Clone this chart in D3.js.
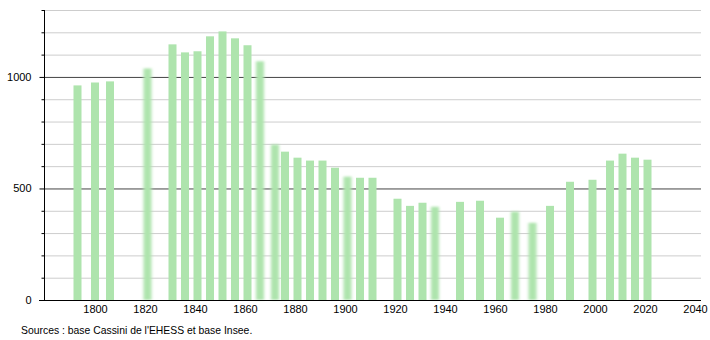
<!DOCTYPE html>
<html>
<head>
<meta charset="utf-8">
<script src="https://cdn.jsdelivr.net/npm/d3@7"></script>
<style>
  body { margin: 0; background: #fff; }
  text { font-family: "Liberation Sans", Arial, sans-serif; }
</style>
</head>
<body>
<svg width="710" height="340"></svg>
<script>
var width = 710;
var height = 340;
var margin = {left: 44, right: 9, top: 10, bottom: 40};

// census years and population
var years = [1793, 1800, 1806, 1821, 1831, 1836, 1841, 1846, 1851, 1856, 1861, 1866,
  1872, 1876, 1881, 1886, 1891, 1896, 1901, 1906, 1911, 1921, 1926, 1931, 1936,
  1946, 1954, 1962, 1968, 1975, 1982, 1990, 1999, 2006, 2011, 2016, 2021];
var population = [962, 975, 980, 1038, 1146, 1110, 1115, 1182, 1204, 1173, 1142, 1070,
  697, 665, 638, 625, 625, 593, 553, 548, 548, 454, 422, 436, 418,
  440, 445, 369, 396, 346, 422, 530, 539, 625, 656, 638, 629];
// years drawn with a soft (blurred) bar
var fuzzyYears = [1821, 1866, 1872, 1901, 1936, 1968, 1975];

var xTicks = [1800, 1820, 1840, 1860, 1880, 1900, 1920, 1940, 1960, 1980, 2000, 2020, 2040];
var yMajor = [0, 500, 1000];
var yMinor = d3.range(0, 1301, 100);

var data = years.map(function (y, i) { return {year: y, pop: population[i]}; });

// Scales
var x = d3.scaleLinear().domain([1779.6, 2042.4]).range([margin.left, width - margin.right]);
var y = d3.scaleLinear().domain([0, 1300]).range([height - margin.bottom, margin.top]);

var svg = d3.select('svg');

var defs = svg.append('defs');
defs.append('filter')
  .attr('id', 'soft')
  .attr('x', '-100%').attr('width', '300%')
  .attr('y', '-10%').attr('height', '120%')
  .append('feGaussianBlur')
  .attr('stdDeviation', '1.6 1');

// grid lines
svg.append('g').selectAll('line')
  .data(yMinor.filter(function (d) { return d > 0 && yMajor.indexOf(d) < 0; }))
  .enter().append('line')
  .attr('x1', margin.left).attr('x2', width - margin.right)
  .attr('y1', function (d) { return y(d) + 0.5; })
  .attr('y2', function (d) { return y(d) + 0.5; })
  .attr('stroke', '#cdcdcd');

svg.append('g').selectAll('line')
  .data(yMajor.filter(function (d) { return d > 0; }))
  .enter().append('line')
  .attr('x1', margin.left).attr('x2', width - margin.right)
  .attr('y1', function (d) { return y(d) + 0.5; })
  .attr('y2', function (d) { return y(d) + 0.5; })
  .attr('stroke', '#444');

// bars
var barW = 8;
svg.append('g').selectAll('rect')
  .data(data)
  .enter().append('rect')
  .attr('x', function (d) { return x(d.year) - barW / 2; })
  .attr('y', function (d) { return y(d.pop); })
  .attr('width', barW)
  .attr('height', function (d) { return y(0) - y(d.pop); })
  .attr('fill', '#aee4ad')
  .attr('filter', function (d) { return fuzzyYears.indexOf(d.year) >= 0 ? 'url(#soft)' : null; });

// y axis
var axisLeft = d3.axisLeft(y).tickValues(yMinor).tickSize(3)
  .tickFormat(function (d) { return yMajor.indexOf(d) >= 0 ? d : ''; });
var gy = svg.append('g')
  .attr('transform', 'translate(' + (margin.left + 0.5) + ',0)')
  .call(axisLeft);
gy.select('.domain').attr('d', 'M0,' + y(1300) + 'V' + y(0)).attr('stroke', '#000');
gy.selectAll('.tick line')
  .attr('x2', function (d) { return yMajor.indexOf(d) >= 0 ? -5 : -3; })
  .attr('stroke', '#000');
gy.selectAll('.tick text')
  .attr('x', -13)
  .style('font-size', '11px')
  .style('font-family', '"Liberation Sans", Arial, sans-serif')
  .attr('fill', '#000');

// x axis
var axisBottom = d3.axisBottom(x).tickValues(xTicks).tickSize(0).tickFormat(d3.format('d'));
var gx = svg.append('g')
  .attr('transform', 'translate(0,' + (y(0) + 0.5) + ')')
  .call(axisBottom);
gx.select('.domain').attr('d', 'M' + (margin.left - 5) + ',0H' + (width - margin.right)).attr('stroke', '#000');
gx.selectAll('.tick text')
  .attr('y', 5)
  .style('font-size', '11px')
  .style('font-family', '"Liberation Sans", Arial, sans-serif')
  .attr('fill', '#000');

// source note
svg.append('text')
  .attr('x', 21)
  .attr('y', 334)
  .style('font-size', '10.4px')
  .attr('fill', '#000')
  .text("Sources : base Cassini de l'EHESS et base Insee.");
</script>
</body>
</html>
